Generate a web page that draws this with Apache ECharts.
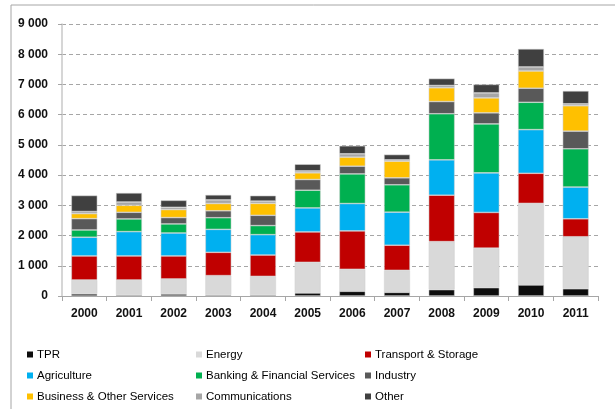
<!DOCTYPE html>
<html>
<head>
<meta charset="utf-8">
<script src="https://cdn.jsdelivr.net/npm/echarts@6/dist/echarts.min.js"></script>
<style>html,body{margin:0;padding:0;background:#fff;}#c{width:615px;height:409px;}</style>
</head>
<body>
<div id="c"></div>
<script>
const years = ['2000','2001','2002','2003','2004','2005','2006','2007','2008','2009','2010','2011'];
const tpr            = [70, 35, 65, 35, 35, 100, 155, 120, 210, 275, 365, 240];
const energy         = [460, 495, 500, 640, 615, 1015, 730, 730, 1590, 1310, 2700, 1720];
const transport      = [795, 795, 760, 770, 705, 1005, 1270, 830, 1535, 1180, 995, 595];
const agriculture    = [620, 805, 760, 760, 675, 795, 905, 1095, 1170, 1310, 1445, 1050];
const banking        = [240, 420, 300, 385, 300, 585, 980, 905, 1525, 1620, 905, 1265];
const industry       = [375, 220, 210, 230, 340, 355, 255, 230, 405, 365, 465, 585];
const business       = [165, 230, 265, 240, 395, 220, 300, 550, 455, 495, 570, 840];
const communications = [70, 110, 75, 120, 75, 65, 110, 45, 75, 165, 135, 65];
const other          = [530, 300, 230, 165, 180, 220, 265, 175, 230, 280, 595, 425];

const seriesDefs = [
  ['TPR', tpr, '#0d0d0d'],
  ['Energy', energy, '#d9d9d9'],
  ['Transport & Storage', transport, '#c00000'],
  ['Agriculture', agriculture, '#00b0f0'],
  ['Banking & Financial Services', banking, '#00b050'],
  ['Industry', industry, '#595959'],
  ['Business & Other Services', business, '#ffc000'],
  ['Communications', communications, '#a6a6a6'],
  ['Other', other, '#404040']
];

const font = '"Liberation Sans", Arial, sans-serif';
const chart = echarts.init(document.getElementById('c'), null, {renderer: 'canvas'});

function legendCol(names, left) {
  return {
    orient: 'vertical', left: left, top: 348, padding: 0,
    itemWidth: 6, itemHeight: 6, itemGap: 8, icon: 'rect',
    itemStyle: {borderWidth: 0},
    data: names,
    textStyle: {fontFamily: font, fontSize: 11.5, color: '#000', padding: [0, 0, 0, -1], lineHeight: 13},
    selectedMode: false
  };
}

chart.setOption({
  animation: false,
  backgroundColor: '#fff',
  graphic: [{
    type: 'rect', shape: {x: 11, y: 5, width: 620, height: 420},
    style: {fill: 'none', stroke: '#a6a6a6', lineWidth: 1}, silent: true, z: -1
  }],
  legend: [
    legendCol(['TPR', 'Agriculture', 'Business & Other Services'], 27),
    legendCol(['Energy', 'Banking & Financial Services', 'Communications'], 196),
    legendCol(['Transport & Storage', 'Industry', 'Other'], 365)
  ],
  grid: {left: 62, right: 17, top: 24, bottom: 113},
  xAxis: {
    type: 'category', data: years,
    axisLine: {lineStyle: {color: '#a6a6a6', width: 1}},
    axisTick: {show: true, length: 5, lineStyle: {color: '#a6a6a6'}},
    axisLabel: {fontFamily: font, fontSize: 12, fontWeight: 'bold', color: '#111', margin: 12}
  },
  yAxis: {
    type: 'value', min: 0, max: 9000, interval: 1000,
    axisLine: {show: true, lineStyle: {color: '#c8c8c8', width: 1.5}},
    axisTick: {show: true, length: 5, lineStyle: {color: '#a6a6a6', type: 'dashed'}},
    splitLine: {lineStyle: {color: '#a6a6a6', type: [4, 3]}},
    axisLabel: {
      fontFamily: font, fontSize: 12, fontWeight: 'bold', color: '#111', margin: 14,
      formatter: v => v >= 1000 ? Math.floor(v / 1000) + ' ' + String(v % 1000).padStart(3, '0') : String(v)
    }
  },
  series: seriesDefs.map(([name, data, color]) => ({
    name: name, type: 'bar', stack: 'total', data: data, barWidth: 26,
    itemStyle: {color: color, borderColor: 'rgba(210,210,210,0.9)', borderWidth: 0.6}
  }))
});
</script>
</body>
</html>
